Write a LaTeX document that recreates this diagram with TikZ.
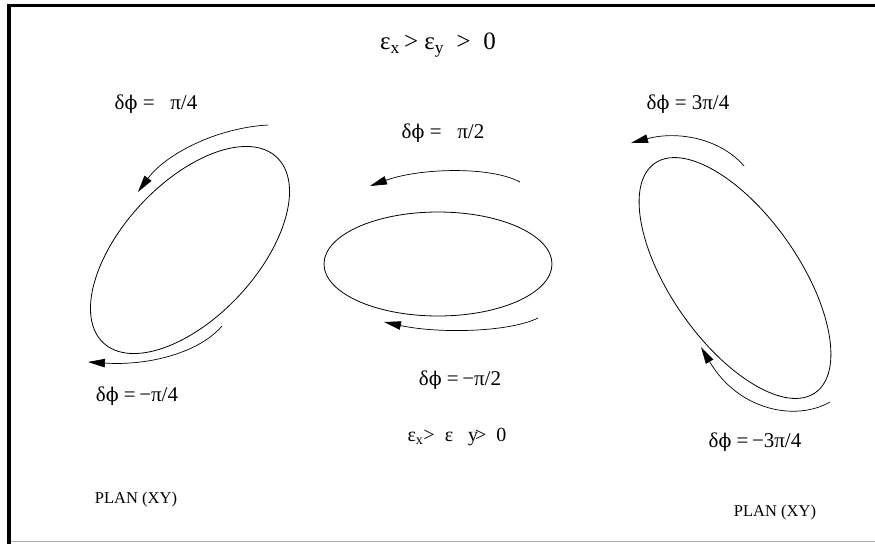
\documentclass[tikz,border=0pt]{standalone}
\usepackage{fontspec}
\setmainfont{Liberation Serif}
\newfontfamily\phifont[Scale=0.9]{DejaVu Serif}
\newcommand{\dphi}{δ{\phifont ϕ}}
\usetikzlibrary{arrows.meta}
\begin{document}
\begin{tikzpicture}[x=1pt, y=-1pt,
    lbl/.style={font=\fontsize{21}{25}\selectfont, inner sep=0pt},
    plan/.style={font=\fontsize{16.5}{19}\selectfont, inner sep=0pt},
    orbit/.style={line width=0.8pt},
    spin/.style={line width=0.7pt, -{Triangle[length=17pt,width=8.5pt]}}]
  \useasboundingbox (0,0) rectangle (875,544);
  \draw[line width=3.5pt] (7,5.5) -- (875,5.5);
  \draw[line width=4pt] (9,4) -- (9,544);
  \draw[gray!60, line width=1.5pt] (11,541.5) -- (875,541.5);

  \node[font=\fontsize{25}{30}\selectfont, inner sep=0pt] (cond) at (438,45)
    {ε\textsubscript{x}\,> ε\textsubscript{y}\ \ >\ \ 0};

  \draw[orbit, rotate around={47:(190,250)}] (190,250) ellipse [x radius=127pt, y radius=67pt];
  \draw[orbit] (438,264) ellipse [x radius=114pt, y radius=52pt];
  \draw[orbit, rotate around={-55:(735,278)}] (735,278) ellipse [x radius=140pt, y radius=64pt];

  \coordinate (ltA) at (268,125);
  \coordinate (ltB) at (138,192);
  \coordinate (lbA) at (222,326);
  \coordinate (lbB) at (88,362);
  \coordinate (mtA) at (520,182);
  \coordinate (mtB) at (370,186);
  \coordinate (mbA) at (538,318);
  \coordinate (mbB) at (384,322);
  \coordinate (rtA) at (744,166);
  \coordinate (rtB) at (631,143);
  \coordinate (rbA) at (830,402);
  \coordinate (rbB) at (701,347);
  \draw[spin] (ltA) .. controls (215,128) and (165,155) .. (ltB);
  \draw[spin] (lbA) .. controls (200,352) and (150,366) .. (lbB);
  \draw[spin] (mtA) .. controls (490,166) and (420,168) .. (mtB);
  \draw[spin] (mbA) .. controls (510,332) and (440,334) .. (mbB);
  \draw[spin] (rtA) .. controls (722,140) and (680,130) .. (rtB);
  \draw[spin] (rbA) .. controls (795,422) and (738,410) .. (rbB);

  \node[lbl] (dp1) at (156,104) {\dphi\ = \ \ π/4};
  \node[lbl] (dp2) at (443,133) {\dphi\ = \ \ π/2};
  \node[lbl] (dp3) at (688,104) {\dphi\ = 3π/4};
  \node[lbl] (dm1) at (137,396) {\dphi\ =\,−π/4};
  \node[lbl] (dm2) at (460,380) {\dphi\ =\,−π/2};
  \node[lbl] (dm3) at (755,442) {\dphi\ =\,−3π/4};
  \node[lbl, font=\fontsize{20}{24}\selectfont] (cond2) at (457,437) {ε\textsubscript{x}>\ \ ε\ \ \ y\kern-3pt>\ \ 0};

  \node[plan] (planL) at (136,500) {PLAN (XY)};
  \node[plan] (planR) at (775,513) {PLAN (XY)};
\end{tikzpicture}
\end{document}
